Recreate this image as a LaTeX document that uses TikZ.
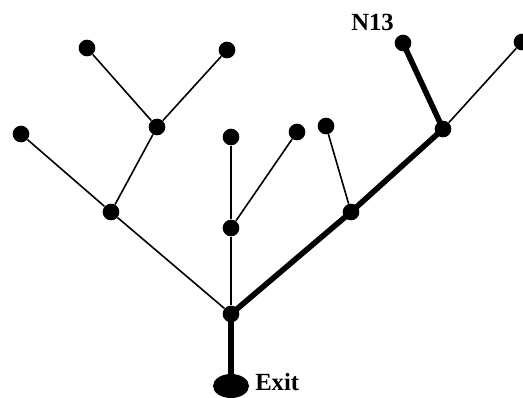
\documentclass[tikz,border=0pt]{standalone}
\usepackage{fontspec}
\setmainfont{Liberation Serif}
\usetikzlibrary{shapes.geometric}
\begin{document}
\begin{tikzpicture}[x=0.75pt,y=-0.75pt,
  dot/.style={circle,fill=black,inner sep=0pt,minimum size=12.5pt},
  thinedge/.style={line width=1.2pt},
  thickedge/.style={line width=4.2pt},
  lbl/.style={font=\bfseries\fontsize{18.5}{20}\selectfont,inner sep=0pt,anchor=base west}]
\useasboundingbox (0,0) rectangle (523,397);
% exit and trunk
\node[ellipse,fill=black,minimum width=27pt,minimum height=18pt,inner sep=0pt] (exit) at (231,386) {};
\node[dot] (r) at (231,314) {};
% left subtree
\node[dot] (a) at (111,212) {};
\node[dot] (a1) at (21,134) {};
\node[dot] (b) at (157,127) {};
\node[dot] (b1) at (87,48) {};
\node[dot] (b2) at (227,50) {};
% middle subtree
\node[dot] (m) at (231,228) {};
\node[dot] (m1) at (231,137) {};
\node[dot] (m2) at (297,132) {};
% right subtree
\node[dot] (c) at (351,212) {};
\node[dot] (c1) at (326,126) {};
\node[dot] (d) at (443,129) {};
\node[dot] (n13) at (403,43) {};
\node[dot] (d2) at (522,42) {};
% labels
\node[lbl] (lexit) at (255,390) {Exit};
\node[lbl] (ln13) at (351,30) {N13};
% edges
\draw[thinedge] (r) -- (a);
\draw[thinedge] (a) -- (a1);
\draw[thinedge] (a) -- (b);
\draw[thinedge] (b) -- (b1);
\draw[thinedge] (b) -- (b2);
\draw[thinedge] (r) -- (m);
\draw[thinedge] (m) -- (m1);
\draw[thinedge] (m) -- (m2);
\draw[thinedge] (c) -- (c1);
\draw[thinedge] (d) -- (d2);
\draw[thickedge] (exit.center) -- (r.center);
\draw[thickedge] (r.center) -- (c.center);
\draw[thickedge] (c.center) -- (d.center);
\draw[thickedge] (d.center) -- (n13.center);
\end{tikzpicture}
\end{document}
